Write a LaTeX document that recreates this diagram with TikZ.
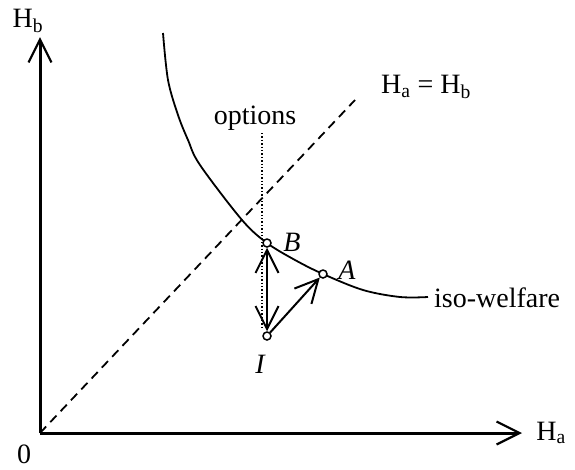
\documentclass[tikz,border=0pt]{standalone}
\usepackage{fontspec}
\setmainfont{Liberation Serif}
\usetikzlibrary{arrows.meta}
\tikzset{
  lbl/.style={font=\fontsize{28}{30}\selectfont, inner sep=0pt},
  vbarb/.style={-{Straight Barb[length=23pt,width=23pt,line width=2.2pt]}},
  axisline/.style={line width=3pt, vbarb},
  pt/.style={circle, draw, fill=white, line width=1.5pt, minimum size=8pt, inner sep=0pt},
  movearrow/.style={line width=2pt}
}
\begin{document}
\begin{tikzpicture}[x=1pt,y=-1pt]
\useasboundingbox (0,0) rectangle (575,469);
% axes
\coordinate (O) at (40,433);
\coordinate (xend) at (522,433);
\coordinate (yend) at (40,37);
\coordinate (diagend) at (355,100);
\draw[line width=1.8pt, dash pattern=on 9pt off 6pt] (O) -- (diagend);
\draw[axisline] (O) -- (xend);
\draw[axisline] (O) -- (yend);
\node[lbl] (Hb) at (28,21) {H\textsubscript{b}};
\node[lbl] (Ha) at (551,433) {H\textsubscript{a}};
\node[lbl] (zero) at (24,454) {0};
\node[lbl] (eq) at (426,87) {H\textsubscript{a} = H\textsubscript{b}};
% iso-welfare curve
\draw[line width=1.8pt] plot[smooth, tension=0.55] coordinates {(163,33) (168,80) (178,115) (188,140) (200,165) (242,220) (267,243) (295,260) (323,274) (363,290) (400,297) (428,297)};
\node[lbl, anchor=west] (iso) at (434,298) {iso-welfare};
% options
\node[lbl] (opt) at (255,118) {options};
\coordinate (dotend) at (262,330);
\draw[line width=1.4pt, dotted] (262,133) -- (dotend);
% points
\node[pt] (B) at (267,243) {};
\node[pt] (A) at (323,274) {};
\node[pt] (I) at (267,336) {};
\draw[movearrow, {Straight Barb[length=23pt,width=23pt,line width=2pt]}-{Straight Barb[length=23pt,width=23pt,line width=2pt]}] (I) -- (B);
\draw[movearrow, -{Straight Barb[length=23pt,width=23pt,line width=2pt]}] (I) -- (A);
\node[lbl, font=\fontsize{28}{30}\selectfont\itshape] (Bl) at (292,242) {B};
\node[lbl, font=\fontsize{28}{30}\selectfont\itshape] (Al) at (347,270) {A};
\node[lbl, font=\fontsize{28}{30}\selectfont\itshape] (Il) at (260,364) {I};
\end{tikzpicture}
\end{document}
